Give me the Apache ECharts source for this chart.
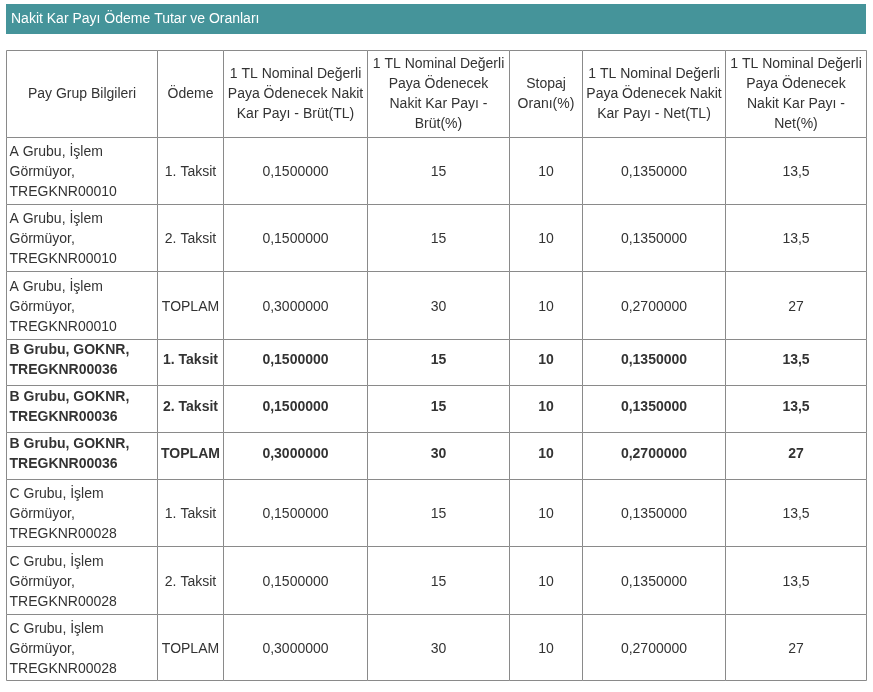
<!DOCTYPE html>
<html>
<head>
<meta charset="utf-8">
<script src="https://cdn.jsdelivr.net/npm/echarts@6/dist/echarts.min.js"></script>
<style>
  html, body { margin: 0; padding: 0; background: #fff; }
  #main { width: 873px; height: 692px; }
</style>
</head>
<body>
<div id="main"></div>
<script>
// tablo verileri
var pageTitle = 'Nakit Kar Payı Ödeme Tutar ve Oranları';
var headers = [
  'Pay Grup Bilgileri',
  'Ödeme',
  '1 TL Nominal Değerli\nPaya Ödenecek Nakit\nKar Payı - Brüt(TL)',
  '1 TL Nominal Değerli\nPaya Ödenecek\nNakit Kar Payı -\nBrüt(%)',
  'Stopaj\nOranı(%)',
  '1 TL Nominal Değerli\nPaya Ödenecek Nakit\nKar Payı - Net(TL)',
  '1 TL Nominal Değerli\nPaya Ödenecek\nNakit Kar Payı -\nNet(%)'
];
var groups = [
  'A Grubu, İşlem\nGörmüyor,\nTREGKNR00010',
  'A Grubu, İşlem\nGörmüyor,\nTREGKNR00010',
  'A Grubu, İşlem\nGörmüyor,\nTREGKNR00010',
  'B Grubu, GOKNR,\nTREGKNR00036',
  'B Grubu, GOKNR,\nTREGKNR00036',
  'B Grubu, GOKNR,\nTREGKNR00036',
  'C Grubu, İşlem\nGörmüyor,\nTREGKNR00028',
  'C Grubu, İşlem\nGörmüyor,\nTREGKNR00028',
  'C Grubu, İşlem\nGörmüyor,\nTREGKNR00028'
];
var payments = ['1. Taksit', '2. Taksit', 'TOPLAM', '1. Taksit', '2. Taksit', 'TOPLAM', '1. Taksit', '2. Taksit', 'TOPLAM'];
var grossTL = ['0,1500000', '0,1500000', '0,3000000', '0,1500000', '0,1500000', '0,3000000', '0,1500000', '0,1500000', '0,3000000'];
var grossPct = ['15', '15', '30', '15', '15', '30', '15', '15', '30'];
var stopaj = ['10', '10', '10', '10', '10', '10', '10', '10', '10'];
var netTL = ['0,1350000', '0,1350000', '0,2700000', '0,1350000', '0,1350000', '0,2700000', '0,1350000', '0,1350000', '0,2700000'];
var netPct = ['13,5', '13,5', '27', '13,5', '13,5', '27', '13,5', '13,5', '27'];

// yerleşim (piksel)
var colWidths = [151, 66, 144, 142, 73, 143, 141];
var rowHeights = [87, 67, 67, 68, 46, 47, 47, 67, 68, 66];
var boldRows = [4, 5, 6]; // B grubu satırları kalın

var colEdges = [0];
colWidths.forEach(function (w, i) { colEdges.push(colEdges[i] + w); });
var rowEdges = [0];
rowHeights.forEach(function (h, i) { rowEdges.push(rowEdges[i] + h); });
var tableW = colEdges[colEdges.length - 1];
var tableH = rowEdges[rowEdges.length - 1];

var columns = [groups, payments, grossTL, grossPct, stopaj, netTL, netPct];
var cells = [];
headers.forEach(function (h, c) { cells.push([c, 0, h]); });
for (var r = 0; r < groups.length; r++) {
  for (var c = 0; c < columns.length; c++) {
    cells.push([c, r + 1, columns[c][r]]);
  }
}

var myChart = echarts.init(document.getElementById('main'));

var option = {
  animation: false,
  graphic: [
    {
      type: 'rect',
      shape: { x: 6, y: 4, width: 860, height: 30 },
      style: { fill: '#45949a' }
    },
    {
      type: 'text',
      x: 11,
      y: 19,
      style: {
        text: pageTitle,
        fill: '#fff',
        font: '14px Arial, "Liberation Sans", sans-serif',
        verticalAlign: 'middle'
      }
    }
  ],
  grid: { left: 6.5, top: 50.5, width: tableW, height: tableH },
  xAxis: { type: 'value', min: 0, max: tableW, show: false },
  yAxis: { type: 'value', min: 0, max: tableH, inverse: true, show: false },
  series: [
    {
      type: 'custom',
      coordinateSystem: 'cartesian2d',
      data: cells,
      renderItem: function (params, api) {
        var c = api.value(0);
        var r = api.value(1);
        var text = cells[params.dataIndex][2];
        var p0 = api.coord([colEdges[c], rowEdges[r]]);
        var p1 = api.coord([colEdges[c + 1], rowEdges[r + 1]]);
        var bold = boldRows.indexOf(r) >= 0;
        var leftAlign = c === 0 && r > 0;
        var dy = r === 0 ? 0.5 : (bold ? -2 : 1.5);
        return {
          type: 'group',
          children: [
            {
              type: 'rect',
              shape: { x: p0[0], y: p0[1], width: p1[0] - p0[0], height: p1[1] - p0[1] },
              style: { fill: '#fff', stroke: '#8a8a8a', lineWidth: 1 }
            },
            {
              type: 'text',
              x: leftAlign ? p0[0] + 3 : (p0[0] + p1[0]) / 2,
              y: (p0[1] + p1[1]) / 2 + dy,
              style: {
                text: text,
                fill: '#333',
                font: (bold ? 'bold ' : '') + '14px Arial, "Liberation Sans", sans-serif',
                lineHeight: 20,
                align: leftAlign ? 'left' : 'center',
                verticalAlign: 'middle'
              }
            }
          ]
        };
      }
    }
  ]
};

option && myChart.setOption(option);
</script>
</body>
</html>
